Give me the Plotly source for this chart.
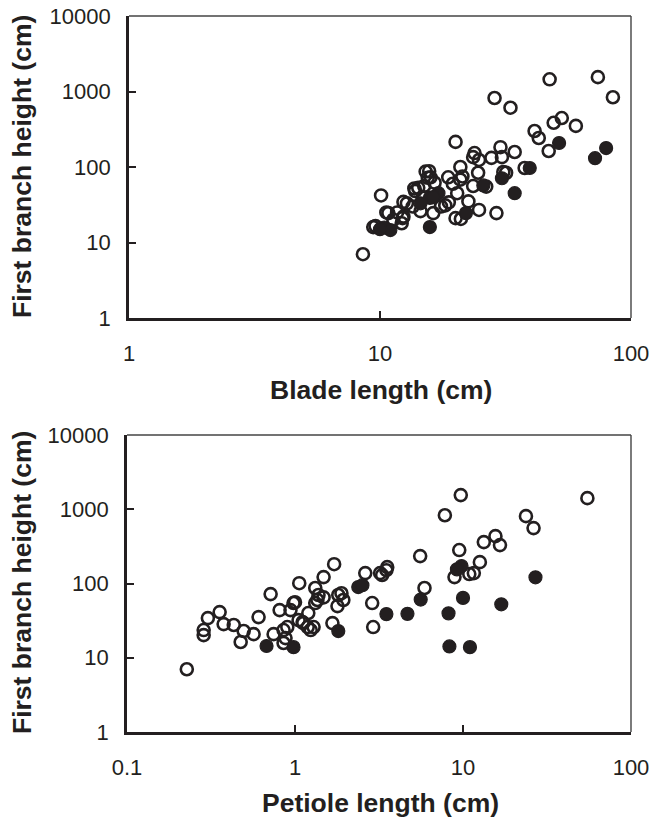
import plotly.graph_objects as go

# ---- Top panel: blade length vs first branch height ----
blade_open_x = [47.4, 73.8, 84.7, 28.6, 33.1, 53, 49.2, 60.3, 41.3, 42.9, 47, 20, 23.8, 23.5, 30.2,
                30.6, 34.4, 27.8, 24.8, 20.9, 37.7, 31, 31.8, 24.6, 21.3, 20.9, 18.7, 15.7, 15.9, 26.5,
                23.5, 20.3, 14.2, 15, 12.8, 10.1, 18.2, 18.8, 24.8, 29.1, 20, 21, 16.3, 12.4, 12.2,
                9.6, 10.8, 8.55, 12.4, 13.7, 15.2, 15.5, 10.6, 11.7, 12.3, 9.4, 13.5, 14.5, 17.5,
                13.8, 16.5, 19.5, 22.5, 11.3, 14.8]
blade_open_y = [1450, 1550, 840, 820, 610, 445, 385, 350, 300, 242, 163, 215, 153, 135, 183,
                135, 158, 132, 124, 100, 97, 86, 84, 84, 75, 68, 73, 88, 73, 55,
                56, 45, 53, 56, 33, 42, 31, 34, 27, 24.5, 21, 20.5, 24.5, 22, 18,
                16.5, 24.5, 7, 34.5, 52, 87, 72, 25, 25, 21, 16, 30, 26, 30,
                48, 62, 60, 35, 20, 40]
blade_fill_x = [51.7, 79.6, 71.9, 39.5, 30.6, 25.8, 17.1, 15.8, 34.4, 22, 15.8, 10.4, 11, 16.3, 14.5, 10]
blade_fill_y = [208, 178, 131, 97, 71, 57, 45, 39, 45, 24.5, 16, 15.8, 14.6, 40, 33, 15]

# ---- Bottom panel: petiole length vs first branch height ----
pet_open_x = [0.227, 0.286, 0.286, 0.303, 0.356, 0.376, 0.432, 0.495, 0.475, 0.567, 0.607, 0.716,
              0.746, 0.81, 0.855, 0.878, 0.855, 0.9, 0.94, 0.98, 1.0, 1.05, 1.11, 1.12, 1.19, 1.24,
              1.29, 1.2, 1.06, 1.32, 1.38, 1.36, 1.48, 1.32, 1.48, 1.71, 1.67, 1.81, 1.89, 1.94,
              1.79, 2.62, 3.21, 3.54, 2.88, 2.92, 9.7, 55, 7.8, 23.7, 26.3, 13.3, 15.6, 16.6,
              5.56, 9.5, 12.6, 8.9, 10.9, 11.6, 3.5, 3.3, 5.9]
pet_open_y = [7.0, 23.6, 20.2, 34.2, 41.2, 28.4, 27.6, 22.9, 16.3, 20.8, 35.3, 72,
              20.8, 43.8, 15.8, 18.4, 23.6, 25.9, 43.8, 54.5, 56, 32.1, 30.2, 29.3, 25.9, 23.6,
              25.9, 40, 101, 87, 70, 60, 65, 54.5, 122, 182, 29.3, 70, 74, 60,
              49.6, 138, 138, 166, 54.5, 25.9, 1550, 1410, 830, 807, 557, 361, 434, 329,
              234, 282, 194, 122, 134, 138, 151, 130, 87]
pet_fill_x = [0.677, 0.98, 1.81, 2.38, 2.52, 3.5, 4.67, 5.6, 10, 8.2, 16.9, 27, 8.3, 11, 9.8, 9.2]
pet_fill_y = [14.4, 13.9, 22.9, 89.5, 95, 38.7, 39, 60.7, 64, 39.6, 52.5, 121, 14.2, 13.9, 172, 155]

y_ticks = [1, 10, 100, 1000, 10000]
y_tick_text = ["1", "10", "100", "1000", "10000"]
x_top_ticks = [1, 10, 100]
x_top_text = ["1", "10", "100"]
x_bot_ticks = [0.1, 1, 10, 100]
x_bot_text = ["0.1", "1", "10", "100"]

INK = "#231f20"
FONT = "Liberation Sans, Arial, sans-serif"
W, H = 653, 823

fig = go.Figure()

def add_panel(xo, yo, xf, yf, xa, ya):
    fig.add_trace(go.Scatter(x=xo, y=yo, mode="markers", xaxis=xa, yaxis=ya,
                             marker=dict(symbol="circle-open", size=12, color=INK,
                                         line=dict(width=2.6, color=INK)),
                             showlegend=False, hoverinfo="x+y"))
    fig.add_trace(go.Scatter(x=xf, y=yf, mode="markers", xaxis=xa, yaxis=ya,
                             marker=dict(symbol="circle", size=13, color=INK,
                                         line=dict(width=1.2, color=INK)),
                             showlegend=False, hoverinfo="x+y"))

add_panel(blade_open_x, blade_open_y, blade_fill_x, blade_fill_y, "x", "y")
add_panel(pet_open_x, pet_open_y, pet_fill_x, pet_fill_y, "x2", "y2")

axis_common = dict(showgrid=False, zeroline=False, showline=True, linewidth=2.6, linecolor=INK,
                   ticks="inside", ticklen=7, tickwidth=2, tickcolor=INK, automargin=False,
                   tickfont=dict(family=FONT, size=22, color=INK), mirror=False)

def px_x(p):
    return p / W

def px_y(p):
    return 1 - p / H

fig.update_layout(
    template="none",
    width=W, height=H,
    margin=dict(l=0, r=0, t=0, b=0, pad=0),
    paper_bgcolor="white", plot_bgcolor="white",
    xaxis=dict(type="log", range=[0, 2], domain=[px_x(129), px_x(631)], anchor="y",
               tickvals=x_top_ticks, ticktext=x_top_text, ticklabelstandoff=14, **axis_common),
    yaxis=dict(type="log", range=[0, 4], domain=[px_y(318), px_y(16)], anchor="x",
               tickvals=y_ticks, ticktext=y_tick_text, ticklabelstandoff=11, **axis_common),
    xaxis2=dict(type="log", range=[-1, 2], domain=[px_x(127), px_x(631)], anchor="y2",
                tickvals=x_bot_ticks, ticktext=x_bot_text, ticklabelstandoff=14, **axis_common),
    yaxis2=dict(type="log", range=[0, 4], domain=[px_y(732), px_y(435)], anchor="x2",
                tickvals=y_ticks, ticktext=y_tick_text, ticklabelstandoff=11, **axis_common),
)

# thin top/right frame lines
for xr, yr in [("x domain", "y domain"), ("x2 domain", "y2 domain")]:
    fig.add_shape(type="line", xref=xr, yref=yr, x0=0, x1=1, y0=1, y1=1,
                  line=dict(color="#444444", width=1.4))
    fig.add_shape(type="line", xref=xr, yref=yr, x0=1, x1=1, y0=0, y1=1,
                  line=dict(color="#444444", width=1.4))

title_font = dict(family=FONT, size=26.5, color=INK)
fig.add_annotation(text="<b>Blade length (cm)</b>", xref="paper", yref="paper",
                   x=px_x(381), y=px_y(390), showarrow=False, font=title_font,
                   xanchor="center", yanchor="middle")
fig.add_annotation(text="<b>Petiole length (cm)</b>", xref="paper", yref="paper",
                   x=px_x(380), y=px_y(803), showarrow=False, font=title_font,
                   xanchor="center", yanchor="middle")
fig.add_annotation(text="<b>First branch height (cm)</b>", xref="paper", yref="paper",
                   x=px_x(22), y=px_y(167), showarrow=False, font=title_font,
                   textangle=-90, xanchor="center", yanchor="middle")
fig.add_annotation(text="<b>First branch height (cm)</b>", xref="paper", yref="paper",
                   x=px_x(22), y=px_y(583), showarrow=False, font=title_font,
                   textangle=-90, xanchor="center", yanchor="middle")

# remove the default page margin so the figure fills the window exactly
fig.write_html("out.html",
               config={"displayModeBar": False},
               post_script="document.body.style.margin='0';document.body.style.overflow='hidden';")
